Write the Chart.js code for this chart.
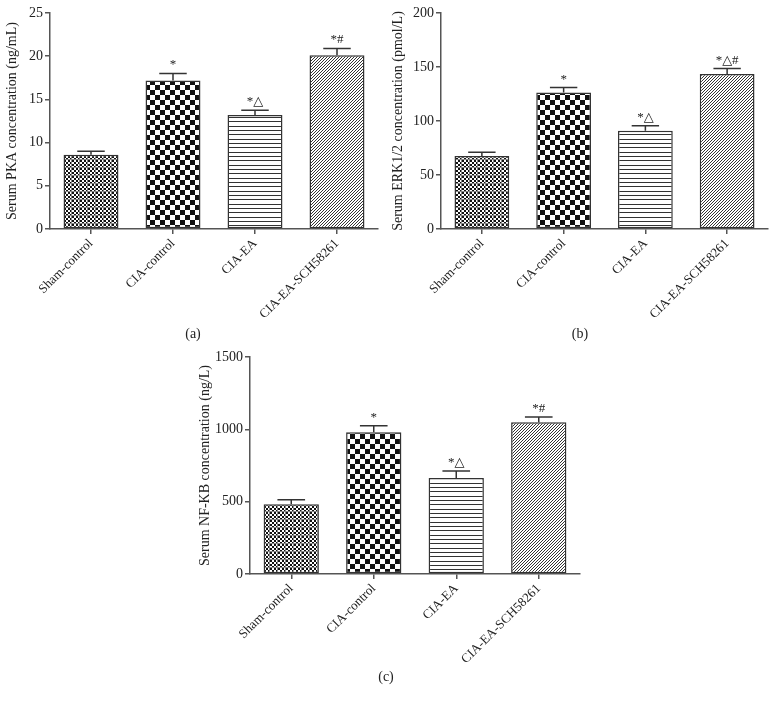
<!DOCTYPE html>
<html>
<head>
<meta charset="utf-8">
<script src="https://cdn.jsdelivr.net/npm/chart.js@4"></script>
<style>
  body { margin: 0; background: #fff; width: 777px; height: 706px; position: relative; overflow: hidden; }
  canvas { position: absolute; }
  .cap { position: absolute; font: 14px "Liberation Serif", serif; color: #222; transform: translateX(-50%); }
</style>
</head>
<body>
<canvas id="chartA" width="388" height="335" style="left:0;top:0"></canvas>
<canvas id="chartB" width="387" height="335" style="left:390px;top:0"></canvas>
<canvas id="chartC" width="400" height="335" style="left:190px;top:344px"></canvas>
<div class="cap" style="left:193px;top:326px">(a)</div>
<div class="cap" style="left:580px;top:326px">(b)</div>
<div class="cap" style="left:386px;top:669px">(c)</div>
<script>
// groups and values (mean + upper error)
const groups = ["Sham-control", "CIA-control", "CIA-EA", "CIA-EA-SCH58261"];

const pkaMeans = [8.6, 17.2, 13.2, 20.1];
const pkaErrors = [0.4, 0.8, 0.55, 0.8];
const pkaMarks = ["", "*", "*\u25B3", "*#"];
const pkaTicks = [0, 5, 10, 15, 20, 25];

const erkMeans = [67.5, 126.5, 91, 143.5];
const erkErrors = [3.5, 4.5, 4.5, 5];
const erkMarks = ["", "*", "*\u25B3", "*\u25B3#"];
const erkTicks = [0, 50, 100, 150, 200];

const nfkbMeans = [483, 979, 664, 1049];
const nfkbErrors = [30, 45, 48, 36];
const nfkbMarks = ["", "*", "*\u25B3", "*#"];
const nfkbTicks = [0, 500, 1000, 1500];

const serif = "'Liberation Serif', 'DejaVu Serif', serif";
Chart.defaults.font.family = serif;
Chart.defaults.color = "#222";

function tile(w, h, draw) {
	const c = document.createElement("canvas");
	c.width = w;
	c.height = h;
	const g = c.getContext("2d");
	g.fillStyle = "#fff";
	g.fillRect(0, 0, w, h);
	g.fillStyle = "#111";
	draw(g);
	return g.createPattern(c, "repeat");
}

// one fill per group: fine checker with grid, coarse checker, horizontal lines, diagonal hatch
function makePatterns() {
	return [
		tile(8, 8, (g) => {
			for (let i = 0; i < 8; i += 2) {
				for (let j = 0; j < 8; j += 2) {
					if ((i + j) % 4 === 0) g.fillRect(i, j, 2, 2);
				}
			}
			g.fillStyle = "#888";
			g.fillRect(7, 0, 1, 8);
			g.fillRect(0, 7, 8, 1);
		}),
		tile(10, 10, (g) => {
			g.fillRect(0, 0, 5, 5);
			g.fillRect(5, 5, 5, 5);
		}),
		tile(4, 13, (g) => {
			g.fillStyle = "#333";
			g.fillRect(0, 0, 4, 1);
			g.fillRect(0, 4, 4, 1);
			g.fillRect(0, 9, 4, 1);
		}),
		tile(3, 3, (g) => {
			g.fillStyle = "#333";
			g.fillRect(0, 2, 1, 1);
			g.fillRect(1, 1, 1, 1);
			g.fillRect(2, 0, 1, 1);
		}),
	];
}

const errorBars = {
	id: "errorBars",
	afterDatasetsDraw(chart) {
		const { ctx } = chart;
		const ds = chart.data.datasets[0];
		const meta = chart.getDatasetMeta(0);
		const y = chart.scales.y;
		ctx.save();
		ctx.strokeStyle = "#333";
		ctx.lineWidth = 1.5;
		meta.data.forEach((bar, i) => {
			const top = y.getPixelForValue(ds.data[i] + ds.errors[i]);
			const half = bar.width / 4;
			ctx.beginPath();
			ctx.moveTo(bar.x, bar.y);
			ctx.lineTo(bar.x, top);
			ctx.moveTo(bar.x - half, top);
			ctx.lineTo(bar.x + half, top);
			ctx.stroke();
			if (ds.marks[i]) {
				ctx.fillStyle = "#222";
				ctx.font = "13px " + serif;
				ctx.textAlign = "center";
				ctx.textBaseline = "alphabetic";
				ctx.fillText(ds.marks[i], bar.x, top - 5);
			}
		});
		ctx.restore();
	},
};

function makeChart(id, means, errors, marks, ticks, title, yWidth, titlePad, padRight, xHeight) {
	const axisColor = "#555";
	return new Chart(document.getElementById(id), {
		type: "bar",
		data: {
			labels: groups,
			datasets: [
				{
					data: means,
					errors,
					marks,
					backgroundColor: makePatterns(),
					borderColor: "#333",
					borderWidth: 1.5,
					borderSkipped: false,
					barPercentage: 0.67,
					categoryPercentage: 1,
				},
			],
		},
		options: {
			responsive: false,
			animation: false,
			devicePixelRatio: 1,
			layout: { padding: { left: 0, top: 13, right: padRight, bottom: 0 } },
			plugins: {
				legend: { display: false },
				tooltip: { enabled: false },
			},
			scales: {
				x: {
					offset: true,
					grid: { offset: false, drawOnChartArea: false, tickLength: 5, color: axisColor, lineWidth: 1.5 },
					border: { color: axisColor, width: 1.5 },
					ticks: { minRotation: 45, maxRotation: 45, padding: 2, font: { size: 13 } },
					afterFit: (s) => {
						s.height = xHeight;
					},
				},
				y: {
					min: ticks[0],
					max: ticks[ticks.length - 1],
					afterBuildTicks: (s) => {
						s.ticks = ticks.map((v) => ({ value: v }));
					},
					grid: { drawOnChartArea: false, tickLength: 5, color: axisColor, lineWidth: 1.5 },
					border: { color: axisColor, width: 1.5 },
					ticks: { padding: 2, font: { size: 14 }, callback: (v) => String(v) },
					title: { display: true, text: title, font: { size: 14 }, padding: { top: titlePad, bottom: 0 } },
					afterFit: (s) => {
						s.width = yWidth;
					},
				},
			},
		},
		plugins: [errorBars],
	});
}

makeChart("chartA", pkaMeans, pkaErrors, pkaMarks, pkaTicks, "Serum PKA concentration (ng/mL)", 50, 4, 10, 106);
makeChart("chartB", erkMeans, erkErrors, erkMarks, erkTicks, "Serum ERK1/2 concentration (pmol/L)", 51, 0, 9, 106);
makeChart("chartC", nfkbMeans, nfkbErrors, nfkbMarks, nfkbTicks, "Serum NF-KB concentration (ng/L)", 60, 7, 10, 105);
</script>
</body>
</html>
